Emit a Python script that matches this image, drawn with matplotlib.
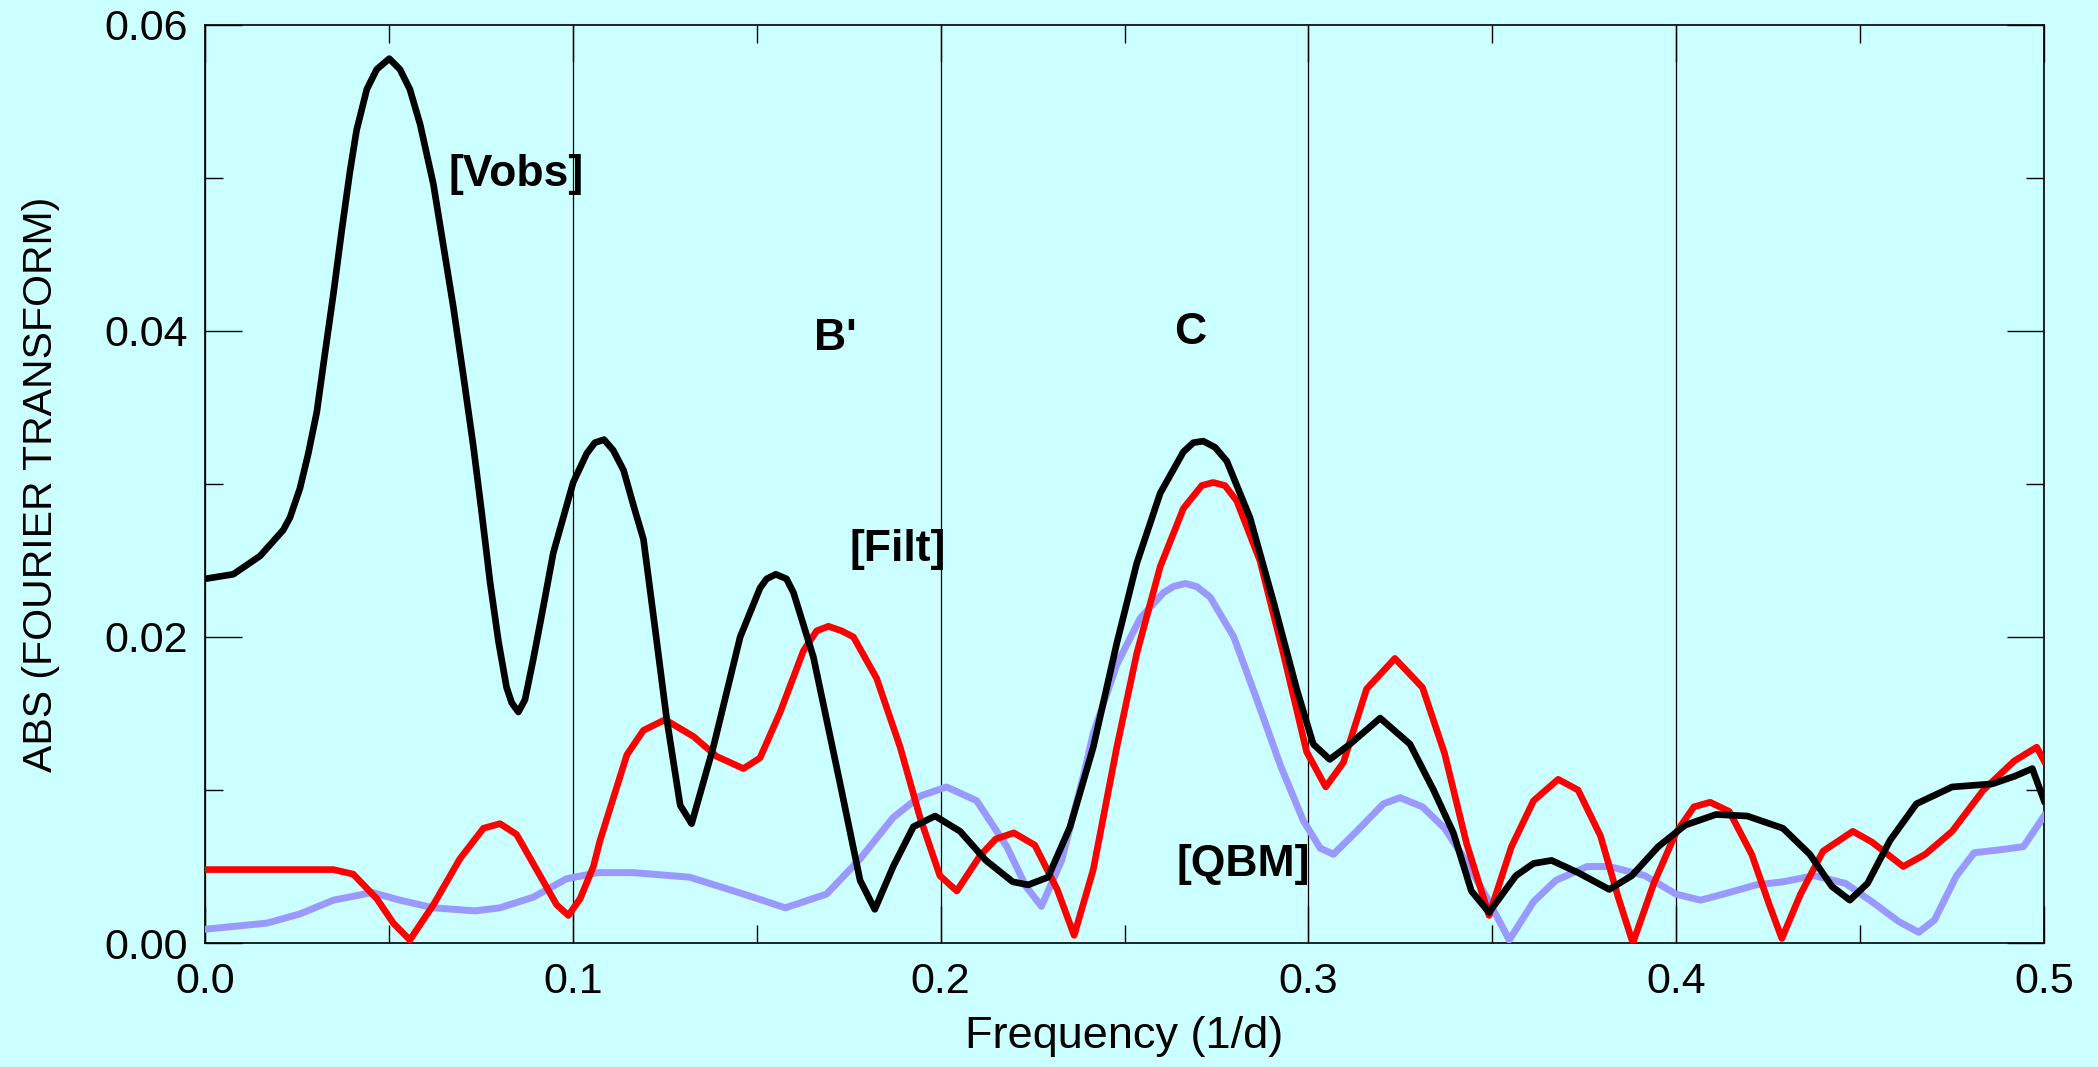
import matplotlib
matplotlib.use("Agg")
import matplotlib.pyplot as plt
from matplotlib.ticker import MultipleLocator

plt.rcParams['font.family'] = ['Liberation Sans', 'DejaVu Sans']

# Fourier amplitude spectra
vobs_f = [0.000, 0.0077, 0.0150, 0.0213, 0.0231, 0.0258, 0.0281, 0.0304, 0.0326, 0.0349,
          0.0372, 0.0394, 0.0412, 0.0440, 0.0467, 0.0501, 0.0530, 0.0557, 0.0585, 0.0621,
          0.0648, 0.0675, 0.0703, 0.0730, 0.0752, 0.0775, 0.0798, 0.0820, 0.0834, 0.0852,
          0.0870, 0.0893, 0.0920, 0.0947, 0.0974, 0.1001, 0.1038, 0.1060, 0.1085, 0.1110,
          0.1138, 0.1165, 0.1192, 0.1224, 0.1255, 0.1292, 0.1323, 0.1382, 0.1455, 0.1509,
          0.1527, 0.1552, 0.1581, 0.1600, 0.1654, 0.1726, 0.1781, 0.1821, 0.1871, 0.1926,
          0.1985, 0.2053, 0.2123, 0.2196, 0.2238, 0.2292, 0.2352, 0.2415, 0.2479, 0.2533,
          0.2597, 0.2660, 0.2687, 0.2714, 0.2746, 0.2778, 0.2841, 0.2905, 0.2968, 0.3013,
          0.3058, 0.3113, 0.3195, 0.3276, 0.3340, 0.3394, 0.3443, 0.3491, 0.3564, 0.3612,
          0.3661, 0.3733, 0.3818, 0.3879, 0.3951, 0.4024, 0.4108, 0.4193, 0.4290, 0.4363,
          0.4423, 0.4472, 0.4520, 0.4581, 0.4653, 0.4750, 0.4859, 0.4920, 0.4968, 0.5000]
vobs_a = [0.0238, 0.0241, 0.0253, 0.0270, 0.0278, 0.0297, 0.0320, 0.0347, 0.0385, 0.0424,
          0.0466, 0.0504, 0.0531, 0.0558, 0.0571, 0.0578, 0.0571, 0.0558, 0.0535, 0.0496,
          0.0456, 0.0416, 0.0370, 0.0324, 0.0282, 0.0236, 0.0197, 0.0167, 0.0157, 0.0151,
          0.0159, 0.0186, 0.0220, 0.0255, 0.0278, 0.0301, 0.0320, 0.0327, 0.0329, 0.0322,
          0.0309, 0.0286, 0.0264, 0.0205, 0.0147, 0.0090, 0.0078, 0.0128, 0.0200, 0.0232,
          0.0238, 0.0241, 0.0238, 0.0229, 0.0187, 0.0105, 0.0041, 0.0022, 0.0050, 0.0076,
          0.0083, 0.0073, 0.0054, 0.0040, 0.0038, 0.0043, 0.0076, 0.0128, 0.0196, 0.0248,
          0.0294, 0.0321, 0.0327, 0.0328, 0.0324, 0.0315, 0.0278, 0.0223, 0.0166, 0.0130,
          0.0120, 0.0130, 0.0147, 0.0130, 0.0100, 0.0072, 0.0034, 0.0020, 0.0044, 0.0052,
          0.0054, 0.0046, 0.0035, 0.0044, 0.0063, 0.0077, 0.0084, 0.0083, 0.0075, 0.0058,
          0.0037, 0.0028, 0.0039, 0.0067, 0.0091, 0.0102, 0.0104, 0.0109, 0.0114, 0.0093]

filt_f = [0.000, 0.0168, 0.0349, 0.0403, 0.0467, 0.0512, 0.0557, 0.0621, 0.0693, 0.0757,
          0.0802, 0.0847, 0.0911, 0.0956, 0.0988, 0.1020, 0.1056, 0.1074, 0.1147, 0.1192,
          0.1251, 0.1328, 0.1391, 0.1464, 0.1509, 0.1564, 0.1627, 0.1663, 0.1695, 0.1731,
          0.1763, 0.1826, 0.1890, 0.1944, 0.1998, 0.2044, 0.2107, 0.2150, 0.2199, 0.2256,
          0.2317, 0.2363, 0.2415, 0.2479, 0.2533, 0.2597, 0.2660, 0.2710, 0.2741, 0.2773,
          0.2805, 0.2868, 0.2932, 0.2995, 0.3047, 0.3095, 0.3158, 0.3235, 0.3310, 0.3370,
          0.3430, 0.3491, 0.3552, 0.3612, 0.3679, 0.3733, 0.3794, 0.3842, 0.3882, 0.3939,
          0.3999, 0.4048, 0.4092, 0.4144, 0.4205, 0.4253, 0.4287, 0.4338, 0.4399, 0.4480,
          0.4532, 0.4617, 0.4677, 0.4750, 0.4835, 0.4919, 0.4980, 0.5000]
filt_a = [0.0048, 0.0048, 0.0048, 0.0045, 0.0029, 0.0013, 0.0002, 0.0025, 0.0055, 0.0075,
          0.0078, 0.0071, 0.0044, 0.0025, 0.0018, 0.0029, 0.0050, 0.0067, 0.0123, 0.0139,
          0.0146, 0.0135, 0.0122, 0.0114, 0.0121, 0.0151, 0.0191, 0.0204, 0.0207, 0.0204,
          0.0200, 0.0173, 0.0128, 0.0082, 0.0044, 0.0034, 0.0057, 0.0068, 0.0072, 0.0064,
          0.0035, 0.0005, 0.0048, 0.0128, 0.0189, 0.0246, 0.0284, 0.0299, 0.0301, 0.0299,
          0.0289, 0.0250, 0.0189, 0.0125, 0.0102, 0.0118, 0.0166, 0.0186, 0.0167, 0.0124,
          0.0065, 0.0018, 0.0063, 0.0093, 0.0107, 0.0100, 0.0070, 0.0030, 0.0000, 0.0039,
          0.0072, 0.0089, 0.0092, 0.0086, 0.0058, 0.0025, 0.0003, 0.0032, 0.0060, 0.0073,
          0.0066, 0.0050, 0.0058, 0.0073, 0.0100, 0.0119, 0.0128, 0.0119]

qbm_f = [0.000, 0.0168, 0.0258, 0.0349, 0.0455, 0.0530, 0.0621, 0.0735, 0.0802, 0.0893,
         0.0983, 0.1069, 0.1165, 0.1318, 0.1464, 0.1578, 0.1690, 0.1781, 0.1871, 0.1944,
         0.2016, 0.2098, 0.2180, 0.2232, 0.2274, 0.2329, 0.2390, 0.2415, 0.2479, 0.2542,
         0.2606, 0.2633, 0.2665, 0.2696, 0.2733, 0.2797, 0.2860, 0.2924, 0.2986, 0.3032,
         0.3068, 0.3131, 0.3204, 0.3249, 0.3310, 0.3370, 0.3430, 0.3491, 0.3546, 0.3612,
         0.3673, 0.3758, 0.3818, 0.3915, 0.3999, 0.4066, 0.4144, 0.4217, 0.4290, 0.4375,
         0.4460, 0.4532, 0.4605, 0.4659, 0.4702, 0.4762, 0.4810, 0.4883, 0.4944, 0.5000]
qbm_a = [0.0009, 0.0013, 0.0019, 0.0028, 0.0033, 0.0028, 0.0023, 0.0021, 0.0023, 0.0030,
         0.0042, 0.0046, 0.0046, 0.0043, 0.0032, 0.0023, 0.0032, 0.0055, 0.0082, 0.0096,
         0.0102, 0.0093, 0.0063, 0.0037, 0.0024, 0.0054, 0.0111, 0.0137, 0.0182, 0.0212,
         0.0229, 0.0233, 0.0235, 0.0233, 0.0226, 0.0200, 0.0159, 0.0116, 0.0080, 0.0062,
         0.0058, 0.0073, 0.0091, 0.0095, 0.0089, 0.0075, 0.0053, 0.0027, 0.0002, 0.0027,
         0.0041, 0.0050, 0.0050, 0.0044, 0.0032, 0.0028, 0.0033, 0.0038, 0.0040, 0.0044,
         0.0039, 0.0027, 0.0014, 0.0007, 0.0015, 0.0044, 0.0059, 0.0061, 0.0063, 0.0083]

labels = ["[Vobs]", "B'", "C", "[Filt]", "[QBM]"]
label_x = [0.0661, 0.1655, 0.2635, 0.1752, 0.2642]
label_y = [0.0502, 0.0395, 0.0399, 0.0257, 0.0051]

bg = "#CCFFFF"
fig = plt.figure(figsize=(20.98, 10.67), dpi=100, facecolor=bg)
ax = fig.add_axes([0.0977, 0.1162, 0.8766, 0.8604], facecolor=bg)

ax.plot(qbm_f, qbm_a, color="#9999FF", lw=5.0, solid_joinstyle="round", zorder=3)
ax.plot(filt_f, filt_a, color="#FF0000", lw=4.8, solid_joinstyle="round", zorder=4)
ax.plot(vobs_f, vobs_a, color="black", lw=4.8, solid_joinstyle="round", zorder=5)

for t, x, y in zip(labels, label_x, label_y):
    ax.text(x, y, t, fontsize=32, fontweight="bold", ha="left", va="center", zorder=6)

ax.set_xlim(0, 0.5)
ax.set_ylim(0, 0.06)
ax.xaxis.set_major_locator(MultipleLocator(0.1))
ax.xaxis.set_minor_locator(MultipleLocator(0.05))
ax.yaxis.set_major_locator(MultipleLocator(0.02))
ax.yaxis.set_minor_locator(MultipleLocator(0.01))
ax.xaxis.set_major_formatter(lambda v, p: "%.1f" % v)
ax.yaxis.set_major_formatter(lambda v, p: "%.2f" % v)

ax.grid(axis="x", which="major", color="black", lw=0.9, zorder=1)
ax.tick_params(which="both", direction="in", top=True, right=True, width=1.0, color="black")
ax.tick_params(which="major", length=26.5, labelsize=31)
ax.tick_params(which="minor", length=13)
ax.tick_params(axis="x", which="major", pad=14)
ax.tick_params(axis="y", which="major", pad=12)
for s in ax.spines.values():
    s.set_linewidth(1.2)

ax.set_xlabel("Frequency (1/d)", fontsize=32.5)
ax.set_ylabel("ABS (FOURIER TRANSFORM)", fontsize=29.5)
ax.xaxis.set_label_coords(0.5, -0.080)
ax.yaxis.set_label_coords(-0.079, 0.5)

fig.savefig("out.png", dpi=100, facecolor=bg)
